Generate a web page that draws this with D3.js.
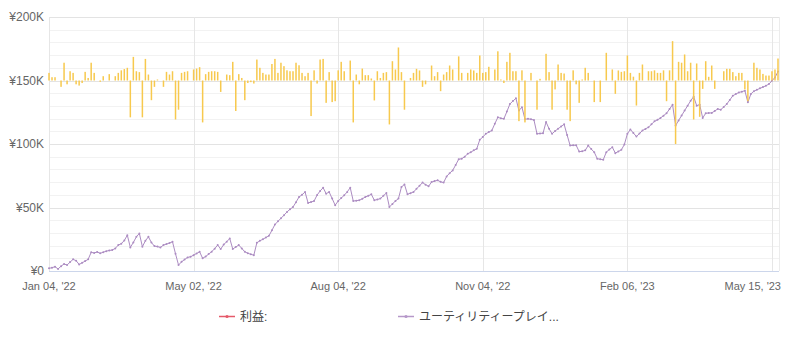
<!DOCTYPE html>
<html>
<head>
<meta charset="utf-8">
<script src="https://cdn.jsdelivr.net/npm/d3@7/dist/d3.min.js"></script>
<style>
  html, body { margin: 0; padding: 0; background: #fff; }
  svg { display: block; font-family: "Liberation Sans", Arial, "Noto Sans CJK JP", sans-serif; }
</style>
</head>
<body>
<svg id="chart" width="787" height="346"></svg>
<script>
// Cumulative equity of the portfolio, in thousands of yen, one value per session
const equityK = [
  2.1, 2.6, 3.4, 1.6, 3.8, 5.5, 4.7, 7.0, 9.2, 8.1,
  5.2, 6.4, 7.8, 9.2, 14.7, 14.2, 15.0, 13.9, 14.8, 15.6,
  16.2, 16.5, 17.8, 20.4, 21.5, 24.0, 28.2, 18.6, 22.5, 26.9,
  29.6, 19.1, 23.8, 26.9, 22.4, 19.6, 19.2, 18.6, 20.4, 21.2,
  22.0, 23.0, 13.5, 4.7, 7.2, 9.0, 10.7, 11.2, 12.5, 13.8,
  15.1, 10.0, 11.4, 13.3, 15.2, 17.6, 20.4, 17.3, 20.8, 23.1,
  25.6, 17.3, 18.9, 20.4, 17.8, 15.1, 14.0, 13.1, 12.5, 22.2,
  23.8, 25.0, 26.4, 27.7, 32.0, 36.6, 39.1, 41.5, 43.9, 46.5,
  48.6, 50.4, 54.2, 58.3, 60.0, 62.2, 53.6, 54.3, 55.1, 59.8,
  63.0, 65.6, 60.9, 62.2, 57.0, 51.8, 55.1, 57.4, 59.6, 62.3,
  65.6, 55.1, 55.4, 55.7, 56.8, 58.3, 59.2, 60.4, 55.7, 56.3,
  57.0, 59.2, 61.4, 50.4, 52.8, 55.1, 57.0, 66.1, 68.2, 60.4,
  61.3, 62.2, 64.7, 67.1, 69.6, 68.0, 66.7, 70.0, 70.8, 71.4,
  70.2, 69.6, 74.5, 77.0, 79.2, 83.5, 88.0, 88.4, 90.0, 92.3,
  93.5, 95.0, 96.2, 103.3, 105.5, 108.0, 109.4, 110.6, 116.0, 121.0,
  120.2, 119.8, 125.5, 131.5, 133.8, 136.0, 126.3, 129.0, 119.5, 119.8,
  119.5, 118.8, 108.0, 108.3, 108.5, 117.3, 112.0, 108.0, 110.2, 112.0,
  113.8, 115.5, 107.0, 98.8, 99.0, 99.0, 94.0, 94.2, 95.0, 98.8,
  96.0, 93.6, 88.4, 88.0, 87.6, 93.6, 95.6, 97.5, 92.8, 94.1,
  95.4, 99.6, 108.0, 111.5, 108.6, 105.9, 108.2, 110.6, 111.9, 113.2,
  115.5, 117.9, 119.0, 120.5, 122.3, 124.2, 127.5, 131.0, 114.5, 118.5,
  122.4, 126.3, 130.2, 134.0, 137.3, 130.2, 131.0, 120.5, 124.2, 124.4,
  124.5, 126.0, 127.6, 127.0, 129.2, 131.5, 134.7, 138.0, 139.3, 140.6,
  141.2, 142.0, 132.8, 139.4, 141.6, 142.7, 143.8, 144.8, 145.9, 147.2,
  149.8, 152.4, 157.0
];

// Per-session gain / loss bars, in thousands of yen, hung from the ¥150K line
const dailyK = [
  6, 2.6, 2.6, 0, -5, 14, -3, 7.3, 6, -3,
  -4, -2, 6.8, 2, 14, 6, 0, -1, 3.4, 0,
  5, 0, 3.4, 6, 8, 9, 10, -29, 18.6, 7.3,
  6.6, -29, 17, 4.7, -15.5, -5, 0.8, 0, -5, 6.8,
  4.7, 7.3, -30.7, -23, 6, 6.8, 7.3, 0, 8.7, 9.4,
  10.5, -33, 5, 6.8, 7.3, 7.3, 6.8, -9, 0, 4.7,
  4.2, 14.7, -24, 5, 2, -15.5, -2, -1.3, -2.4, 16.5,
  10, 6, 4.7, 4.7, 13, 17, 6, 14, 11.3, 8,
  7.3, 7.3, 14, 12, 6, 3.4, 6, -28, 8, -2.4,
  16.5, 17, -17.6, 6.6, -17, -16.3, 8, 14.7, 7.3, 0,
  15.7, -33, 4.7, -3, 9.4, 4.2, 4.2, 1.6, -15.7, 7.3,
  2, 6, 6.6, -34.6, 15.2, 8.7, 26, 6.6, -23, 0,
  2, 6, 9.2, 7.9, -5, -3, 0, 11.8, 3.4, 6.6,
  -8.4, 4.7, 6.6, 11.8, 8.7, 0, 19, 6, 0, 6,
  8.7, 7.9, 6, 19.7, 6, 6.6, 10.8, 0, 8.7, 23,
  0.8, -2, 14.7, 21.8, 7.3, 7.3, -32, 8, -33, 0,
  6, 0, -23, 1.3, 0, 21, 6.6, -23, -7, 12.6,
  6, 5.5, -23, -32, 8, -3, -17.6, 0.8, 10, 6,
  0, -17, 0, -17, 0, 21.8, 0, 8.7, -10.5, 7.9,
  6.8, 7.3, 19.7, 6, 3, -19.7, 6, 12.6, 0, 7.3,
  7.3, 8, 6, 6, 8, -16.3, 8, 31, -50, 14.7,
  14, 20.5, 7.3, 14, -30.7, 13.4, -28.6, -6.6, 15.2, 2.9,
  11.8, -6.6, 0, 0, 7.3, 9.2, 9.2, 6.6, 3.4, 6,
  6, -7, -16.3, 0, 14, 10, 8.7, 5.2, 3.9, 3.9,
  7.3, 8.7, 17.3
];
const barBaselineK = 150;

// Axis ticks
const xTickIndex = [0, 48, 96, 144, 192, 240];
const xTickLabels = ["Jan 04, '22", "May 02, '22", "Aug 04, '22", "Nov 04, '22", "Feb 06, '23", "May 15, '23"];
const yTickValuesK = [0, 50, 100, 150, 200];
const yTickLabels = ["¥0", "¥50K", "¥100K", "¥150K", "¥200K"];
const yMinorStepK = 10;

// Legend entries
const legendNames = ["利益:", "ユーティリティープレイ..."];
const legendColors = ["#e55a6a", "#b698c9"];

const lineColor = "#ac8cc2";
const barColor = "#f7c94e";

const svg = d3.select("#chart");
const plot = { left: 49, right: 779, top: 17, bottom: 271 };

const x = d3.scaleLinear().domain([0, equityK.length - 1]).range([plot.left, plot.right - 1]);
const y = d3.scaleLinear().domain([0, 200]).range([plot.bottom, plot.top]);

// Minor horizontal grid
const minor = d3.range(0, 200 + 1e-9, yMinorStepK).filter(v => yTickValuesK.indexOf(v) < 0);
svg.append("g").selectAll("line").data(minor).join("line")
  .attr("x1", plot.left).attr("x2", plot.right)
  .attr("y1", d => Math.round(y(d)) + 0.5).attr("y2", d => Math.round(y(d)) + 0.5)
  .attr("stroke", "#f2f2f2").attr("stroke-width", 1);

// Major horizontal grid
svg.append("g").selectAll("line").data(yTickValuesK.filter(v => v > 0)).join("line")
  .attr("x1", plot.left).attr("x2", plot.right)
  .attr("y1", d => Math.round(y(d)) + 0.5).attr("y2", d => Math.round(y(d)) + 0.5)
  .attr("stroke", "#e3e3e3").attr("stroke-width", 1);

// Vertical grid at labelled sessions
svg.append("g").selectAll("line").data(xTickIndex).join("line")
  .attr("x1", d => Math.round(x(d)) + 0.5).attr("x2", d => Math.round(x(d)) + 0.5)
  .attr("y1", plot.top).attr("y2", plot.bottom)
  .attr("stroke", "#e6e6e6").attr("stroke-width", 1);

// Right edge of plotting area
svg.append("line")
  .attr("x1", plot.right + 0.5).attr("x2", plot.right + 0.5)
  .attr("y1", plot.top).attr("y2", plot.bottom)
  .attr("stroke", "#ececec");

// Bottom axis line
svg.append("line")
  .attr("x1", plot.left).attr("x2", plot.right)
  .attr("y1", plot.bottom + 0.5).attr("y2", plot.bottom + 0.5)
  .attr("stroke", "#ccd6eb");

// Equity line with small point markers
const line = d3.line().x((d, i) => x(i)).y(d => y(d));
svg.append("path").datum(equityK)
  .attr("d", line).attr("fill", "none")
  .attr("stroke", lineColor).attr("stroke-width", 1)
  .attr("stroke-linejoin", "round");
svg.append("g").selectAll("circle").data(equityK).join("circle")
  .attr("cx", (d, i) => x(i)).attr("cy", d => y(d)).attr("r", 1)
  .attr("fill", lineColor);

// Gain / loss bars
svg.append("g").selectAll("rect").data(dailyK).join("rect")
  .attr("x", (d, i) => x(i) - 0.75)
  .attr("width", 1.5)
  .attr("y", d => y(barBaselineK + Math.max(d, 0)))
  .attr("height", d => Math.abs(y(barBaselineK + d) - y(barBaselineK)))
  .attr("fill", barColor);

// Y axis labels
svg.append("g").selectAll("text").data(yTickValuesK).join("text")
  .attr("x", 44).attr("y", d => y(d) + 4)
  .attr("text-anchor", "end")
  .attr("font-size", 12).attr("fill", "#666")
  .text((d, i) => yTickLabels[i]);

// X axis labels (last one kept inside the frame)
svg.append("g").selectAll("text").data(xTickIndex).join("text")
  .attr("x", (d, i) => i === xTickIndex.length - 1 ? 781 : x(d))
  .attr("y", 290)
  .attr("text-anchor", (d, i) => i === xTickIndex.length - 1 ? "end" : "middle")
  .attr("font-size", 11).attr("fill", "#666")
  .text((d, i) => xTickLabels[i]);

// Legend
const legendX = [219, 398];
const lg = svg.append("g").selectAll("g").data(legendNames).join("g")
  .attr("transform", (d, i) => `translate(${legendX[i]},316)`);
lg.append("line").attr("x1", 0).attr("x2", 16).attr("y1", 0.5).attr("y2", 0.5)
  .attr("stroke", (d, i) => legendColors[i]).attr("stroke-width", 1.5);
lg.append("circle").attr("cx", 8).attr("cy", 0.5).attr("r", 1.6)
  .attr("fill", (d, i) => legendColors[i]);
lg.append("text").attr("x", 21).attr("y", 4.5)
  .attr("font-size", 12).attr("fill", "#444")
  .text(d => d);
</script>
</body>
</html>
